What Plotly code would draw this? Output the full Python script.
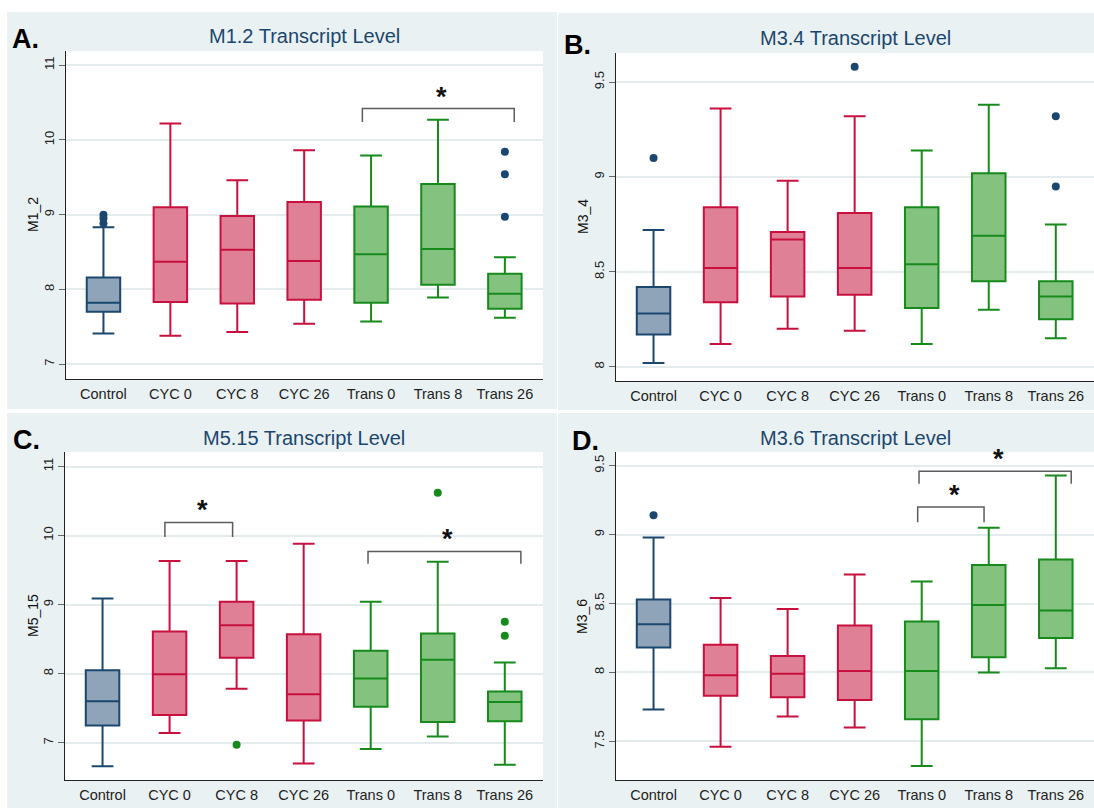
import plotly.graph_objects as go

W, H = 1094, 808
FONT = "Liberation Sans, Arial, sans-serif"

categories = ["Control", "CYC 0", "CYC 8", "CYC 26", "Trans 0", "Trans 8", "Trans 26"]
groups = ["control", "cyc", "cyc", "cyc", "trans", "trans", "trans"]

# ---------------- Panel A : M1.2 ----------------
a_low = [7.41, 7.38, 7.43, 7.54, 7.57, 7.89, 7.62]
a_q1 = [7.70, 7.83, 7.81, 7.86, 7.82, 8.06, 7.74]
a_med = [7.82, 8.37, 8.53, 8.38, 8.47, 8.54, 7.94]
a_q3 = [8.16, 9.10, 8.98, 9.17, 9.11, 9.41, 8.21]
a_high = [8.83, 10.22, 9.46, 9.86, 9.79, 10.27, 8.43]
a_out_cat = ["Control", "Control", "Control", "Trans 26", "Trans 26", "Trans 26"]
a_out_val = [9.00, 8.95, 8.88, 9.84, 9.54, 8.97]
a_br_from = ["Trans 0"]
a_br_to = ["Trans 26"]
a_br_level = [10.42]
a_yticks = [7, 8, 9, 10, 11]
a_ytext = ["7", "8", "9", "10", "11"]

# ---------------- Panel B : M3.4 ----------------
b_low = [8.02, 8.12, 8.20, 8.19, 8.12, 8.30, 8.15]
b_q1 = [8.17, 8.34, 8.37, 8.38, 8.31, 8.45, 8.25]
b_med = [8.28, 8.52, 8.67, 8.52, 8.54, 8.69, 8.37]
b_q3 = [8.42, 8.84, 8.71, 8.81, 8.84, 9.02, 8.45]
b_high = [8.72, 9.36, 8.98, 9.32, 9.14, 9.38, 8.75]
b_out_cat = ["Control", "CYC 26", "Trans 26", "Trans 26"]
b_out_val = [9.10, 9.58, 9.32, 8.95]
b_br_from = []
b_br_to = []
b_br_level = []
b_yticks = [8, 8.5, 9, 9.5]
b_ytext = ["8", "8.5", "9", "9.5"]

# ---------------- Panel C : M5.15 ----------------
c_low = [6.66, 7.14, 7.78, 6.70, 6.91, 7.09, 6.68]
c_q1 = [7.25, 7.40, 8.23, 7.32, 7.52, 7.30, 7.31]
c_med = [7.60, 7.99, 8.70, 7.70, 7.93, 8.20, 7.59]
c_q3 = [8.05, 8.61, 9.04, 8.57, 8.33, 8.58, 7.74]
c_high = [9.09, 9.63, 9.63, 9.88, 9.04, 9.62, 8.16]
c_out_cat = ["CYC 8", "Trans 8", "Trans 26", "Trans 26"]
c_out_val = [6.97, 10.62, 8.75, 8.55]
c_br_from = ["CYC 0", "Trans 0"]
c_br_to = ["CYC 8", "Trans 26"]
c_br_level = [10.19, 9.77]
c_yticks = [7, 8, 9, 10, 11]
c_ytext = ["7", "8", "9", "10", "11"]

# ---------------- Panel D : M3.6 ----------------
d_low = [7.73, 7.46, 7.68, 7.60, 7.32, 8.00, 8.03]
d_q1 = [8.18, 7.83, 7.82, 7.80, 7.66, 8.11, 8.25]
d_med = [8.35, 7.98, 7.99, 8.01, 8.01, 8.49, 8.45]
d_q3 = [8.53, 8.20, 8.12, 8.34, 8.37, 8.78, 8.82]
d_high = [8.98, 8.54, 8.46, 8.71, 8.66, 9.05, 9.43]
d_out_cat = ["Control"]
d_out_val = [9.14]
d_br_from = ["Trans 0", "Trans 0"]
d_br_to = ["Trans 26", "Trans 8"]
d_br_level = [9.46, 9.20]
d_yticks = [7.5, 8, 8.5, 9, 9.5]
d_ytext = ["7.5", "8", "8.5", "9", "9.5"]

# ---------------- styles ----------------
NAVY = "#1a476f"
line_col = {"control": "#1a476f", "cyc": "#c8103e", "trans": "#178a1c"}
fill_col = {"control": "#8fa4b8", "cyc": "#e08096", "trans": "#84c280"}
GREEN_DOT = "#178a1c"
BG = "#eaf1f2"

panels = [
    dict(label="A.", title="M1.2 Transcript Level", ytitle="M1_2",
         low=a_low, q1=a_q1, med=a_med, q3=a_q3, high=a_high,
         out_cat=a_out_cat, out_val=a_out_val, out_color=NAVY,
         br_from=a_br_from, br_to=a_br_to, br_level=a_br_level,
         yticks=a_yticks, ytext=a_ytext, yrange=[6.80, 11.19],
         bg=(7, 557, 12, 409), plot=(66, 543, 51, 379), title_y=36,
         label_xy=(25, 39), ytitle_x=33,
         br_off=[(-0.13, 0.14)], br_drop=[0.18]),
    dict(label="B.", title="M3.4 Transcript Level", ytitle="M3_4",
         low=b_low, q1=b_q1, med=b_med, q3=b_q3, high=b_high,
         out_cat=b_out_cat, out_val=b_out_val, out_color=NAVY,
         br_from=b_br_from, br_to=b_br_to, br_level=b_br_level,
         yticks=b_yticks, ytext=b_ytext, yrange=[7.925, 9.653],
         bg=(558, 1094, 13, 410), plot=(616, 1094, 53, 381), title_y=38,
         label_xy=(577, 45), ytitle_x=583,
         br_off=[], br_drop=[]),
    dict(label="C.", title="M5.15 Transcript Level", ytitle="M5_15",
         low=c_low, q1=c_q1, med=c_med, q3=c_q3, high=c_high,
         out_cat=c_out_cat, out_val=c_out_val, out_color=GREEN_DOT,
         br_from=c_br_from, br_to=c_br_to, br_level=c_br_level,
         yticks=c_yticks, ytext=c_ytext, yrange=[6.46, 11.21],
         bg=(7, 557, 413, 808), plot=(65, 543, 452, 780), title_y=438,
         label_xy=(26, 440), ytitle_x=33,
         br_off=[(-0.07, -0.06), (-0.04, 0.24)], br_drop=[0.21, 0.18]),
    dict(label="D.", title="M3.6 Transcript Level", ytitle="M3_6",
         low=d_low, q1=d_q1, med=d_med, q3=d_q3, high=d_high,
         out_cat=d_out_cat, out_val=d_out_val, out_color=NAVY,
         br_from=d_br_from, br_to=d_br_to, br_level=d_br_level,
         yticks=d_yticks, ytext=d_ytext, yrange=[7.219, 9.60],
         bg=(558, 1094, 413, 808), plot=(616, 1094, 452, 780), title_y=438,
         label_xy=(585, 441), ytitle_x=582,
         br_off=[(-0.04, 0.23), (-0.06, -0.07)], br_drop=[0.09, 0.11]),
]


def px(xp):
    return xp / W


def py(yp):
    return 1 - yp / H


fig = go.Figure()
shapes = []
annotations = []
layout_axes = {}

for i, p in enumerate(panels):
    n = "" if i == 0 else str(i + 1)
    xref, yref = "x" + n, "y" + n
    cat_idx = {c: k for k, c in enumerate(categories)}

    # boxes, one trace per colour group
    for g in ["control", "cyc", "trans"]:
        ids = [k for k, gg in enumerate(groups) if gg == g]
        fig.add_trace(go.Box(
            x=ids,
            q1=[p["q1"][k] for k in ids],
            median=[p["med"][k] for k in ids],
            q3=[p["q3"][k] for k in ids],
            lowerfence=[p["low"][k] for k in ids],
            upperfence=[p["high"][k] for k in ids],
            orientation="v", width=0.5, whiskerwidth=0.65,
            fillcolor=fill_col[g], line=dict(color=line_col[g], width=2),
            boxpoints=False, showlegend=False, hoverinfo="skip",
            xaxis=xref, yaxis=yref,
        ))

    # outliers
    fig.add_trace(go.Scatter(
        x=[cat_idx[c] for c in p["out_cat"]], y=p["out_val"], mode="markers",
        marker=dict(color=p["out_color"], size=8), showlegend=False,
        hoverinfo="skip", xaxis=xref, yaxis=yref, cliponaxis=False,
    ))

    # significance brackets
    for b, (f, t, lev) in enumerate(zip(p["br_from"], p["br_to"], p["br_level"])):
        x0 = cat_idx[f] + p["br_off"][b][0]
        x1 = cat_idx[t] + p["br_off"][b][1]
        drop = p["br_drop"][b]
        fig.add_trace(go.Scatter(
            x=[x0, x0, x1, x1], y=[lev - drop, lev, lev, lev - drop],
            mode="lines", line=dict(color="#5c5c5c", width=1.5),
            showlegend=False, hoverinfo="skip", xaxis=xref, yaxis=yref,
            cliponaxis=False,
        ))
        annotations.append(dict(
            x=(x0 + x1) / 2 + 0.05, y=lev, xref=xref, yref=yref,
            text="<b>*</b>", showarrow=False, yanchor="middle", yshift=12,
            font=dict(size=27, color="#111", family=FONT),
        ))

    bx0, bx1, by0, by1 = p["bg"]
    shapes.append(dict(type="rect", xref="paper", yref="paper", layer="below",
                       x0=px(bx0), x1=px(bx1), y0=py(by1), y1=py(by0),
                       fillcolor=BG, line=dict(width=0)))
    qx0, qx1, qy0, qy1 = p["plot"]
    shapes.append(dict(type="rect", xref="paper", yref="paper", layer="below",
                       x0=px(qx0), x1=px(qx1), y0=py(qy1), y1=py(qy0),
                       fillcolor="white", line=dict(width=0)))

    layout_axes["xaxis" + n] = dict(
        domain=[px(qx0), px(qx1)], anchor=yref, range=[-0.56, 6.57],
        tickvals=list(range(len(categories))), ticktext=categories,
        showgrid=False, zeroline=False, showline=True, linecolor="#222",
        linewidth=1.3, ticks="outside", ticklen=1, tickcolor="rgba(0,0,0,0)",
        tickfont=dict(size=14.5, color="#222", family=FONT), fixedrange=True,
    )
    layout_axes["yaxis" + n] = dict(
        domain=[py(qy1), py(qy0)], anchor=xref, range=p["yrange"],
        tickvals=p["yticks"], ticktext=p["ytext"], tickangle=-90,
        ticks="outside", ticklen=6, tickcolor="#666", showline=True,
        linecolor="#222", linewidth=1.3, showgrid=True, gridcolor="#e3ebec",
        gridwidth=1.5, zeroline=False,
        tickfont=dict(size=13, color="#222", family=FONT), fixedrange=True,
    )

    annotations.append(dict(
        x=px((qx0 + qx1) / 2), y=py(p["title_y"]), xref="paper", yref="paper",
        text=p["title"], showarrow=False, xanchor="center", yanchor="middle",
        font=dict(size=20, color=NAVY, family=FONT)))
    annotations.append(dict(
        x=px(p["label_xy"][0]), y=py(p["label_xy"][1]), xref="paper", yref="paper",
        text="<b>" + p["label"] + "</b>", showarrow=False, xanchor="center",
        yanchor="middle", font=dict(size=27, color="black", family=FONT)))
    annotations.append(dict(
        x=px(p["ytitle_x"]), y=py((qy0 + qy1) / 2), xref="paper", yref="paper",
        text=p["ytitle"], showarrow=False, textangle=-90, xanchor="center",
        yanchor="middle", font=dict(size=14, color="#111", family=FONT)))

fig.update_layout(
    width=W, height=H, autosize=False,
    margin=dict(l=0, r=0, t=0, b=0, pad=0),
    paper_bgcolor="white", plot_bgcolor="white",
    boxmode="overlay", shapes=shapes, annotations=annotations,
    font=dict(family=FONT), **layout_axes,
)

fig.write_html(
    "out.html",
    config={"displayModeBar": False},
    post_script="document.body.style.margin='0';document.body.style.overflow='hidden';",
)
